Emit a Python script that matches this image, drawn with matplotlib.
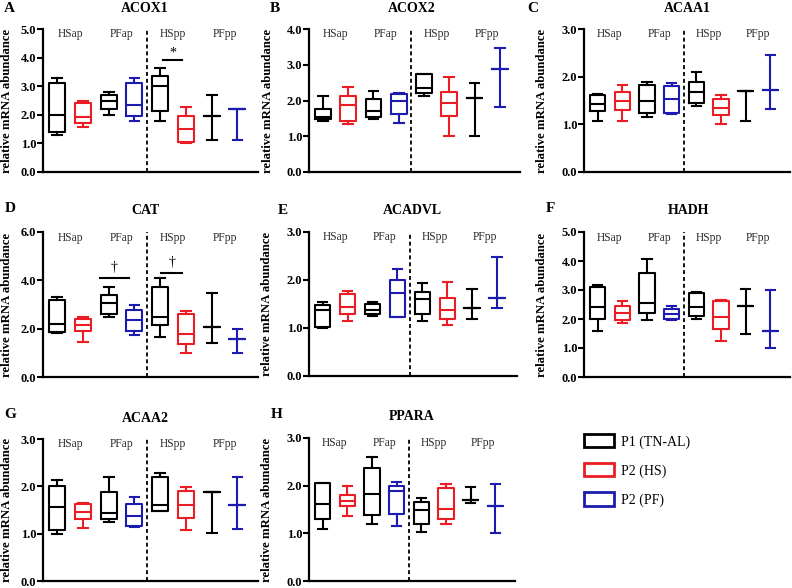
import matplotlib
matplotlib.use("Agg")
import matplotlib.pyplot as plt
from matplotlib.patches import Patch

plt.rcParams['font.family'] = ['Liberation Serif', 'DejaVu Serif']

# box stats per group: [whislo, q1, med, q3, whishi]; order = HSap P1, HSap P2, PFap P1, PFap P2, HSpp P1, HSpp P2, PFpp P1, PFpp P2
acox1 = [[1.30, 1.40, 2.00, 3.10, 3.30], [1.57, 1.70, 1.93, 2.43, 2.47], [1.98, 2.22, 2.50, 2.68, 2.80], [1.80, 1.97, 2.35, 3.10, 3.28],
         [1.77, 2.15, 3.00, 3.35, 3.63], [1.02, 1.05, 1.50, 1.95, 2.28], [1.12, 1.95, 1.95, 1.95, 2.68], [1.12, 2.20, 2.20, 2.20, 2.20]]
acox2 = [[1.43, 1.47, 1.55, 1.75, 2.13], [1.33, 1.42, 1.87, 2.12, 2.37], [1.48, 1.55, 1.70, 2.03, 2.27], [1.37, 1.63, 2.00, 2.18, 2.20],
         [2.13, 2.22, 2.35, 2.75, 2.75], [1.02, 1.57, 1.93, 2.25, 2.65], [1.00, 2.07, 2.07, 2.07, 2.48], [1.82, 2.88, 2.88, 2.88, 3.47]]
acaa1 = [[1.07, 1.27, 1.42, 1.62, 1.63], [1.07, 1.30, 1.48, 1.68, 1.82], [1.15, 1.23, 1.50, 1.83, 1.88], [1.22, 1.23, 1.53, 1.80, 1.87],
         [1.38, 1.45, 1.68, 1.88, 2.10], [1.00, 1.20, 1.35, 1.53, 1.62], [1.08, 1.70, 1.70, 1.70, 1.70], [1.32, 1.73, 1.73, 1.73, 2.45]]
cat = [[1.82, 1.85, 2.20, 3.20, 3.32], [1.45, 1.90, 2.15, 2.42, 2.50], [2.50, 2.60, 3.05, 3.40, 3.72], [1.75, 1.90, 2.35, 2.78, 3.00],
       [1.67, 2.15, 2.50, 3.72, 4.10], [1.00, 1.37, 1.80, 2.60, 2.73], [1.42, 2.07, 2.07, 2.07, 3.47], [1.00, 1.58, 1.58, 1.58, 1.97]]
acadvl = [[1.00, 1.03, 1.38, 1.48, 1.55], [1.15, 1.30, 1.43, 1.70, 1.77], [1.25, 1.30, 1.38, 1.50, 1.55], [1.22, 1.23, 1.72, 2.00, 2.22],
          [1.15, 1.30, 1.60, 1.75, 1.93], [1.07, 1.18, 1.37, 1.62, 1.95], [1.18, 1.42, 1.42, 1.42, 1.82], [1.42, 1.62, 1.62, 1.62, 2.47]]
hadh = [[1.60, 2.00, 2.42, 3.10, 3.17], [1.85, 1.95, 2.22, 2.45, 2.62], [1.95, 2.22, 2.55, 3.60, 4.07], [1.95, 2.00, 2.18, 2.33, 2.45],
        [2.00, 2.10, 2.40, 2.88, 2.93], [1.25, 1.65, 2.07, 2.62, 2.67], [1.50, 2.45, 2.45, 2.45, 3.05], [1.00, 1.60, 1.60, 1.60, 3.00]]
acaa2 = [[1.00, 1.07, 1.57, 2.00, 2.13], [1.12, 1.32, 1.45, 1.63, 1.65], [1.25, 1.32, 1.43, 1.88, 2.20], [1.15, 1.17, 1.37, 1.62, 1.77],
         [1.47, 1.48, 1.60, 2.20, 2.28], [1.07, 1.33, 1.60, 1.90, 1.98], [1.02, 1.88, 1.88, 1.88, 1.88], [1.10, 1.60, 1.60, 1.60, 2.20]]
ppara = [[1.10, 1.30, 1.62, 2.05, 2.05], [1.37, 1.57, 1.67, 1.80, 2.00], [1.20, 1.38, 1.83, 2.38, 2.60], [1.15, 1.40, 1.88, 2.00, 2.07],
         [1.03, 1.20, 1.48, 1.65, 1.75], [1.20, 1.30, 1.52, 1.95, 2.03], [1.63, 1.70, 1.70, 1.70, 1.97], [1.00, 1.58, 1.58, 1.58, 2.03]]

groups = ['HSap', 'PFap', 'HSpp', 'PFpp']
legend_labels = ['P1 (TN-AL)', 'P2 (HS)', 'P2 (PF)']

BLACK, RED, BLUE = 'black', '#ec1c24', '#1b1bb0'
box_colors = [BLACK, RED, BLACK, BLUE, BLACK, RED, BLACK, BLUE]

W, H = 792, 588
fig = plt.figure(figsize=(W / 100, H / 100), dpi=100)

# (name, letter, data, ymax, ystep, axes px box [left, right, top, bottom], letter px, title px, ylabel px x)
panels = [
    ('ACOX1', 'A', acox1, 5, 1, (43, 258, 29, 172), (9, 9), (145, 9), 13),
    ('ACOX2', 'B', acox2, 4, 1, (309, 520, 29, 172), (275, 9), (412, 9), 274),
    ('ACAA1', 'C', acaa1, 3, 1, (584, 790, 29, 172), (533, 9), (687, 9), 548),
    ('CAT', 'D', cat, 6, 2, (43, 258, 232, 377), (10, 209), (145, 210), 13),
    ('ACADVL', 'E', acadvl, 3, 1, (309, 517, 232, 376), (283, 211), (412, 211), 273),
    ('HADH', 'F', hadh, 5, 1, (584, 790, 232, 377), (550, 209), (688, 210), 548),
    ('ACAA2', 'G', acaa2, 3, 1, (43, 258, 439, 581), (10, 415), (145, 418), 13),
    ('PPARA', 'H', ppara, 3, 1, (309, 515, 438, 581), (277, 415), (412, 417), 273),
]

axes = {}
for name, letter, data, ymax, ystep, (l, r, t, b), (lx, ly), (tx, ty), ylx in panels:
    ax = fig.add_axes([l / W, 1 - b / H, (r - l) / W, (b - t) / H])
    axes[name] = ax
    for i, (lo, q1, med, q3, hi) in enumerate(data):
        c = box_colors[i]
        st = dict(med=med, q1=q1, q3=q3, whislo=lo, whishi=hi, fliers=[])
        ax.bxp([st], positions=[i + 1], widths=0.62, capwidths=0.38, showfliers=False,
               boxprops=dict(color=c, lw=1.5), medianprops=dict(color=c, lw=1.5),
               whiskerprops=dict(color=c, lw=1.5), capprops=dict(color=c, lw=1.5))
    ax.axvline(4.5, color='black', lw=1.3, ls=(0, (2.2, 1.6)))
    for j, g in enumerate(groups):
        ax.text(1.5 + 2 * j, ymax * 0.962, g, ha='center', va='center', fontsize=8.3, color='#2a2a2a')
    ax.set_xlim(0.45, 8.8)
    ax.set_ylim(0, ymax)
    ax.set_yticks([ystep * k for k in range(int(ymax / ystep) + 1)])
    ax.set_yticklabels([f'{ystep * k:.1f}' for k in range(int(ymax / ystep) + 1)], fontweight='bold', fontsize=9)
    ax.set_xticks([])
    for s in ['top', 'right']:
        ax.spines[s].set_visible(False)
    for s in ['left', 'bottom']:
        ax.spines[s].set_linewidth(1.6)
    ax.tick_params(axis='y', length=4, width=1.5, pad=1)
    ax.set_ylabel('relative mRNA abundance', fontsize=9.2, fontweight='bold')
    ax.yaxis.set_label_coords((ylx - l) / (r - l), 0.5)
    fig.text(lx / W, 1 - ly / H, letter, fontsize=11, fontweight='bold', ha='center', va='center')
    fig.text(tx / W, 1 - ty / H, name, fontsize=10, fontweight='bold', ha='center', va='center')

# significance marks
ax = axes['ACOX1']
ax.plot([5.1, 5.85], [3.92, 3.92], color='black', lw=1.5)
ax.text(5.48, 4.16, '*', ha='center', va='center', fontsize=10)
ax = axes['CAT']
ax.plot([2.65, 3.8], [4.1, 4.1], color='black', lw=1.5)
ax.text(3.22, 4.55, '†', ha='center', va='center', fontsize=10)
ax.plot([5.05, 5.86], [4.3, 4.3], color='black', lw=1.5)
ax.text(5.45, 4.72, '†', ha='center', va='center', fontsize=10)

handles = [Patch(facecolor='white', edgecolor=c, lw=2) for c in (BLACK, RED, BLUE)]
fig.legend(handles=handles, labels=legend_labels, loc='upper left', bbox_to_anchor=(584 / W, 1 - 434 / H),
           frameon=False, fontsize=10, handlelength=2.15, handleheight=1.1, labelspacing=1.05,
           handletextpad=0.5, borderpad=0, borderaxespad=0)

fig.savefig('out.png', dpi=100)
